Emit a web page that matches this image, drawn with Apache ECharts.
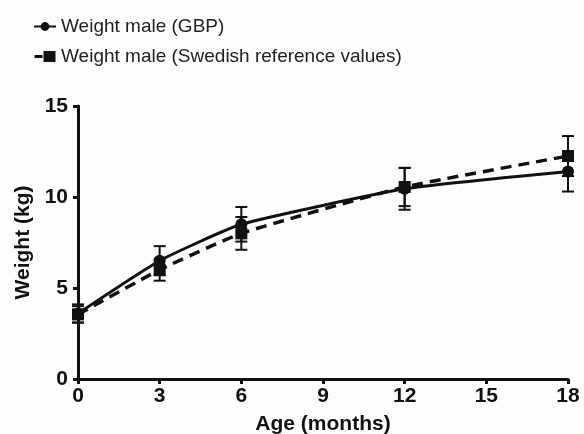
<!DOCTYPE html>
<html>
<head>
<meta charset="utf-8">
<script src="https://cdn.jsdelivr.net/npm/echarts@6/dist/echarts.min.js"></script>
<style>
  html, body { margin: 0; padding: 0; background: #fdfdfc; }
  #chart { width: 584px; height: 434px; }
</style>
</head>
<body>
<div id="chart"></div>
<script>
const ageMonths = [0, 3, 6, 12, 18];
const weightGBP = [3.6, 6.5, 8.5, 10.45, 11.4];
const errGBP = [0.5, 0.8, 0.95, 1.15, 1.1];
const weightSwedish = [3.55, 6.0, 8.0, 10.55, 12.25];
const errSwedish = [0.45, 0.6, 0.9, 1.05, 1.1];
const xTicks = [0, 3, 6, 9, 12, 15, 18];
const yTicks = [0, 5, 10, 15];

const font = "Liberation Sans, Arial, sans-serif";

function pairs(xs, ys) {
    return xs.map((x, i) => [x, ys[i]]);
}

function errorSeries(ys, errs) {
    return {
        type: "custom",
        data: ageMonths.map((x, i) => [x, ys[i] - errs[i], ys[i] + errs[i]]),
        z: 1,
        silent: true,
        renderItem: (params, api) => {
            const lo = api.coord([api.value(0), api.value(1)]);
            const hi = api.coord([api.value(0), api.value(2)]);
            const w = 6;
            const style = { stroke: "#111", lineWidth: 2 };
            return {
                type: "group",
                children: [
                    { type: "line", shape: { x1: lo[0], y1: lo[1], x2: hi[0], y2: hi[1] }, style },
                    { type: "line", shape: { x1: lo[0] - w, y1: lo[1], x2: lo[0] + w, y2: lo[1] }, style },
                    { type: "line", shape: { x1: hi[0] - w, y1: hi[1], x2: hi[0] + w, y2: hi[1] }, style },
                ],
            };
        },
    };
}

const chart = echarts.init(document.getElementById("chart"));
chart.setOption({
    backgroundColor: "#fdfdfc",
    animation: false,
    legend: {
        orient: "vertical",
        left: 28,
        top: 12,
        itemGap: 11,
        itemWidth: 22,
        itemHeight: 11,
        textStyle: { fontFamily: font, fontSize: 19, color: "#222" },
        data: [
            { name: "Weight male (GBP)" },
            { name: "Weight male (Swedish reference values)", icon: "path://M0,4L8,4L8,7L0,7Z M9,0L21,0L21,11L9,11Z" },
        ],
    },
    grid: { left: 78, right: 16, top: 106, bottom: 55, outerBoundsMode: "none", containLabel: false },
    xAxis: {
        type: "value",
        min: 0,
        max: 18,
        interval: 3,
        name: "Age (months)",
        nameLocation: "middle",
        nameGap: 35,
        nameTextStyle: { fontFamily: font, fontSize: 21, fontWeight: "bold", color: "#111" },
        axisLine: { lineStyle: { color: "#111", width: 3 } },
        axisTick: { show: true, length: 5, lineStyle: { color: "#111", width: 3 } },
        axisLabel: {
            fontFamily: font, fontSize: 21, fontWeight: "bold", color: "#111", margin: 7,
            formatter: v => (xTicks.includes(v) ? String(v) : ""),
        },
        splitLine: { show: false },
    },
    yAxis: {
        type: "value",
        min: 0,
        max: 15,
        interval: 5,
        name: "Weight (kg)",
        nameLocation: "middle",
        nameRotate: 90,
        nameGap: 38,
        nameTextStyle: { fontFamily: font, fontSize: 21, fontWeight: "bold", color: "#111" },
        axisLine: { show: true, lineStyle: { color: "#111", width: 3 } },
        axisTick: { show: true, length: 5, lineStyle: { color: "#111", width: 3 } },
        axisLabel: {
            fontFamily: font, fontSize: 21, fontWeight: "bold", color: "#111", margin: 10,
            formatter: v => (yTicks.includes(v) ? String(v) : ""),
        },
        splitLine: { show: false },
    },
    series: [
        errorSeries(weightGBP, errGBP),
        errorSeries(weightSwedish, errSwedish),
        {
            name: "Weight male (GBP)",
            type: "line",
            data: pairs(ageMonths, weightGBP),
            smooth: 0.15,
            symbol: "circle",
            symbolSize: 12,
            z: 3,
            itemStyle: { color: "#111" },
            lineStyle: { color: "#111", width: 3 },
        },
        {
            name: "Weight male (Swedish reference values)",
            type: "line",
            data: pairs(ageMonths, weightSwedish),
            smooth: 0.15,
            symbol: "rect",
            symbolSize: 12,
            z: 3,
            itemStyle: { color: "#111" },
            lineStyle: { color: "#111", width: 3.5, type: [11, 7] },
        },
    ],
});
</script>
</body>
</html>
